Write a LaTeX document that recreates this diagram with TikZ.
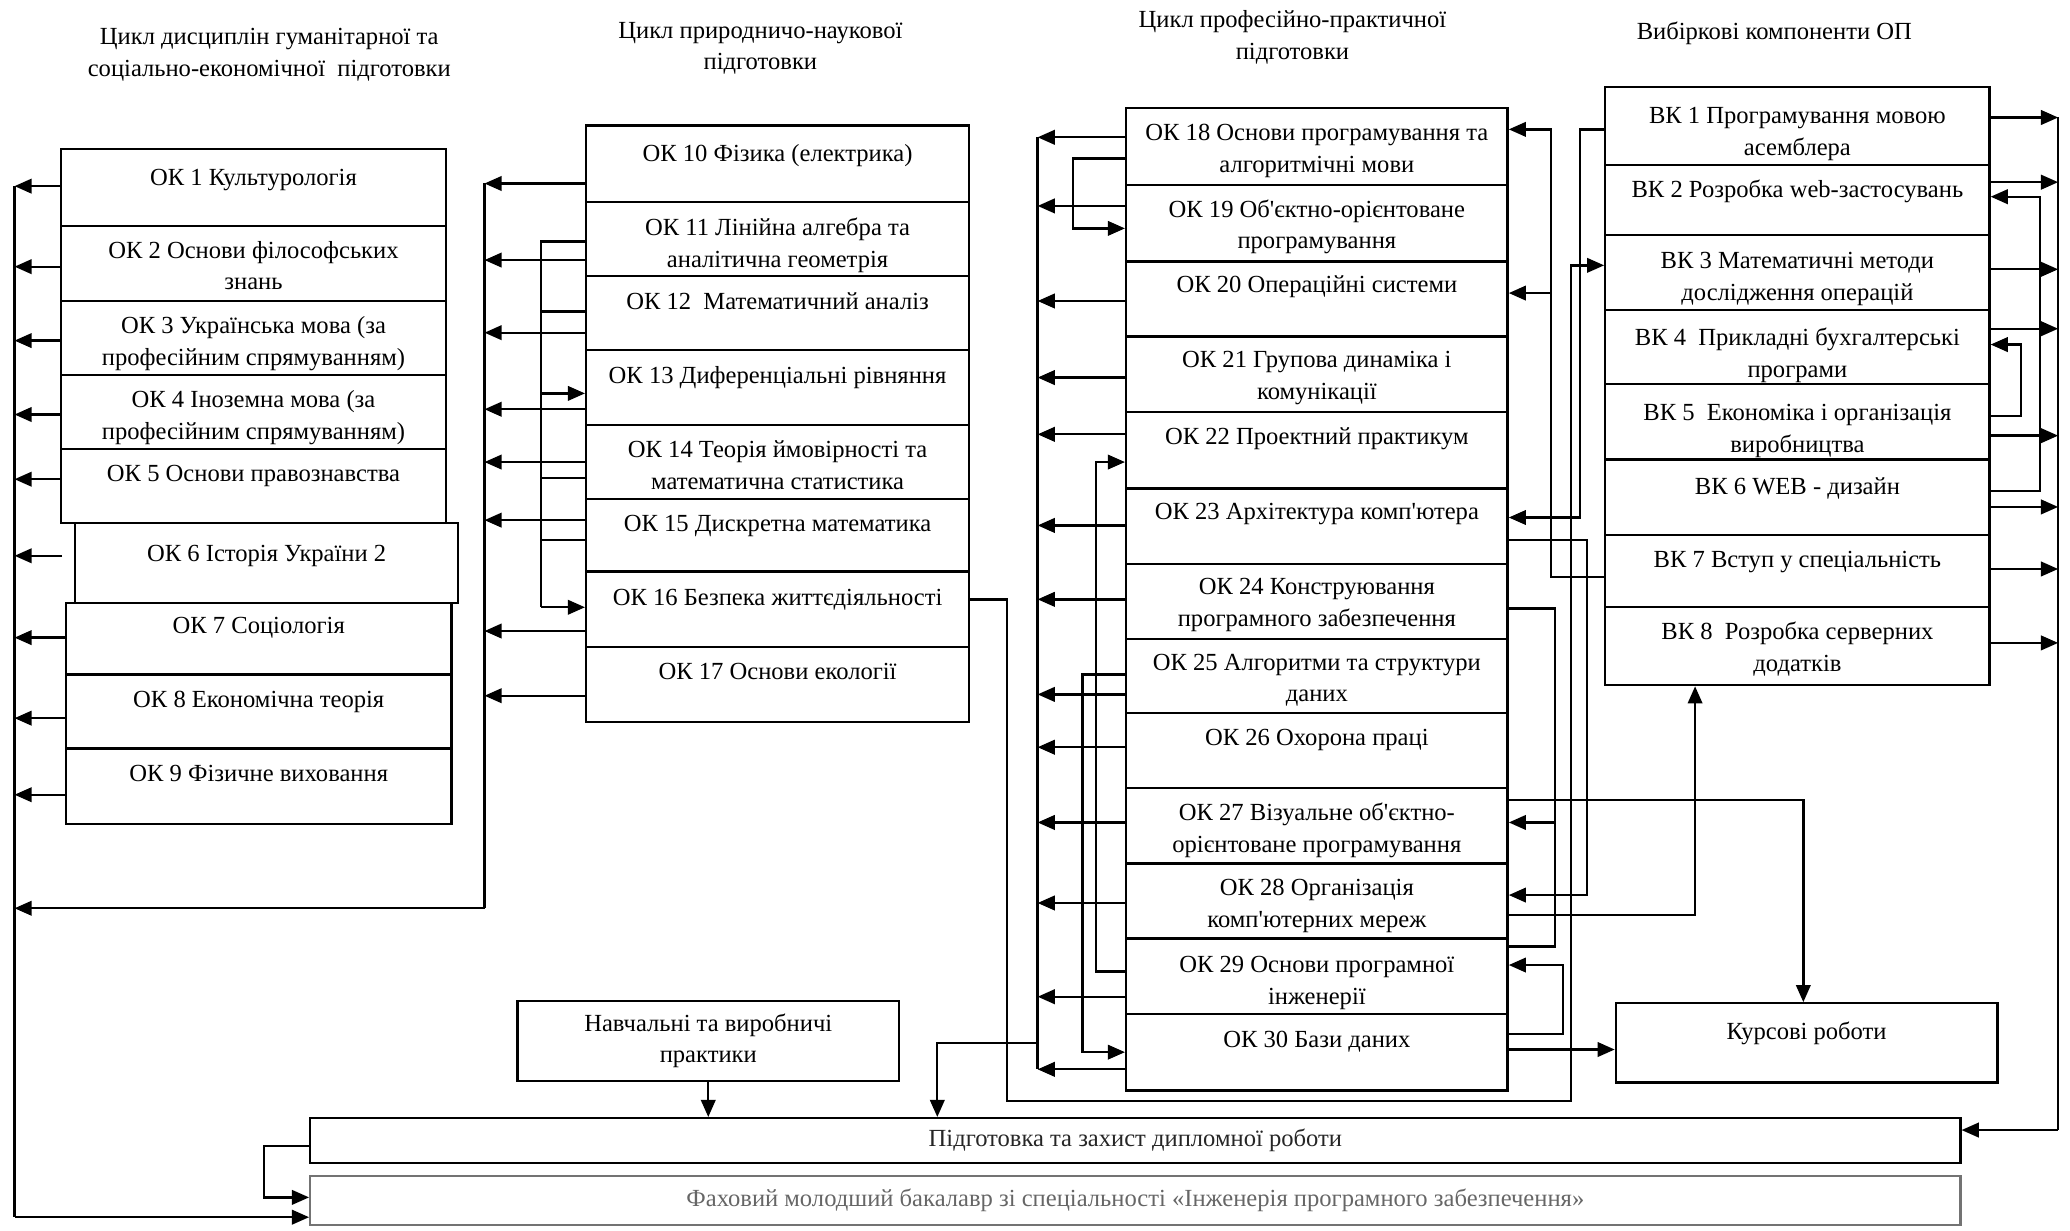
\documentclass[tikz,border=0pt]{standalone}
\usepackage{fontspec}
\setmainfont{Liberation Serif}
\usetikzlibrary{arrows.meta}
\newcommand\fs{\fontsize{10.6}{13.6}\selectfont}
\newcommand\ap{\textquotesingle}
\newcommand\mkcell[5]{\node[cell, minimum width={(#4-#2)*0.02cm}, minimum height={(#5-#3)*0.02cm}] (#1) at ({(#2+#4)/2},{(#3+#5)/2}) {};}
\newcommand\mklbl[3]{\node[lbl] (#1t) at ([yshift={-(#2+2.5)*0.02cm}]#1.north) {\strut #3};}
\newcommand\toL[3]{\draw[arr] (#1.west |- 0,#3) -- (#2 |- 0,#3);}
\newcommand\toR[3]{\draw[arr] (#1.east |- 0,#3) -- (#2 |- 0,#3);}
\begin{document}
\begin{tikzpicture}[x=0.02cm,y=-0.02cm,
  every node/.style={font=\fs},
  cell/.style={draw, line width=1pt, inner sep=0pt, align=center},
  lbl/.style={inner sep=0pt, anchor=north, align=center},
  ttl/.style={inner sep=0pt, anchor=north, align=center},
  conn/.style={line width=1pt},
  arr/.style={conn, -{Triangle[length=0.26cm,width=0.22cm]}}]
\useasboundingbox (0,0) rectangle (1568,932);

% titles
\node[ttl] (t1) at (204,17) {\strut Цикл дисциплін гуманітарної та\\соціально-економічної\ \ підготовки};
\node[ttl] (t2) at (576,12) {\strut Цикл природничо-наукової\\підготовки};
\node[ttl] (t3) at (979,4) {\strut Цикл професійно-практичної\\підготовки};
\node[ttl] (t4) at (1344,13) {\strut Вибіркові компоненти ОП};

% column 1
\mkcell{ok1}{46}{113}{338}{171}
\mkcell{ok2}{46}{171}{338}{228}
\mkcell{ok3}{46}{228}{338}{284}
\mkcell{ok4}{46}{284}{338}{340}
\mkcell{ok5}{46}{340}{338}{396}
\mkcell{ok6}{57}{396}{347}{457}
\mkcell{ok7}{50}{457}{342}{511}
\mkcell{ok8}{50}{511}{342}{567}
\mkcell{ok9}{50}{567}{342}{624}
\mklbl{ok1}{9}{ОК 1 Культурологія}
\mklbl{ok2}{6}{ОК 2 Основи філософських\\знань}
\mklbl{ok3}{6}{ОК 3 Українська мова (за\\професійним спрямуванням)}
\mklbl{ok4}{6}{ОК 4 Іноземна мова (за\\професійним спрямуванням)}
\mklbl{ok5}{6}{ОК 5 Основи правознавства}
\mklbl{ok6}{11}{ОК 6 Історія України 2}
\mklbl{ok7}{4}{ОК 7 Соціологія}
\mklbl{ok8}{6}{ОК 8 Економічна теорія}
\mklbl{ok9}{6}{ОК 9 Фізичне виховання}

% column 2
\mkcell{ok10}{444}{95}{734}{153}
\mkcell{ok11}{444}{153}{734}{209}
\mkcell{ok12}{444}{209}{734}{265}
\mkcell{ok13}{444}{265}{734}{322}
\mkcell{ok14}{444}{322}{734}{378}
\mkcell{ok15}{444}{378}{734}{433}
\mkcell{ok16}{444}{433}{734}{490}
\mkcell{ok17}{444}{490}{734}{547}
\mklbl{ok10}{9}{ОК 10 Фізика (електрика)}
\mklbl{ok11}{7}{ОК 11 Лінійна алгебра та\\аналітична геометрія}
\mklbl{ok12}{7}{ОК 12\ \ Математичний аналіз}
\mklbl{ok13}{7}{ОК 13 Диференціальні рівняння}
\mklbl{ok14}{6}{ОК 14 Теорія ймовірності та\\математична статистика}
\mklbl{ok15}{6}{ОК 15 Дискретна математика}
\mklbl{ok16}{7}{ОК 16 Безпека життєдіяльності}
\mklbl{ok17}{6}{ОК 17 Основи екології}

% column 3
\mkcell{ok18}{853}{82}{1142}{140}
\mkcell{ok19}{853}{140}{1142}{198}
\mkcell{ok20}{853}{198}{1142}{255}
\mkcell{ok21}{853}{255}{1142}{312}
\mkcell{ok22}{853}{312}{1142}{370}
\mkcell{ok23}{853}{370}{1142}{427}
\mkcell{ok24}{853}{427}{1142}{484}
\mkcell{ok25}{853}{484}{1142}{540}
\mkcell{ok26}{853}{540}{1142}{597}
\mkcell{ok27}{853}{597}{1142}{654}
\mkcell{ok28}{853}{654}{1142}{711}
\mkcell{ok29}{853}{711}{1142}{768}
\mkcell{ok30}{853}{768}{1142}{826}
\mklbl{ok18}{6}{ОК 18 Основи програмування та\\алгоритмічні мови}
\mklbl{ok19}{6}{ОК 19 Об\ap єктно-орієнтоване\\програмування}
\mklbl{ok20}{5}{ОК 20 Операційні системи}
\mklbl{ok21}{5}{ОК 21 Групова динаміка і\\комунікації}
\mklbl{ok22}{6}{ОК 22 Проектний практикум}
\mklbl{ok23}{5}{ОК 23 Архітектура комп\ap ютера}
\mklbl{ok24}{5}{ОК 24 Конструювання\\програмного забезпечення}
\mklbl{ok25}{5}{ОК 25 Алгоритми та структури\\даних}
\mklbl{ok26}{6}{ОК 26 Охорона праці}
\mklbl{ok27}{6}{ОК 27 Візуальне об\ap єктно-\\орієнтоване програмування}
\mklbl{ok28}{6}{ОК 28 Організація\\комп\ap ютерних мереж}
\mklbl{ok29}{7}{ОК 29 Основи програмної\\інженерії}
\mklbl{ok30}{7}{ОК 30 Бази даних}

% column 4
\mkcell{vk1}{1216}{66}{1507}{125}
\mkcell{vk2}{1216}{125}{1507}{178}
\mkcell{vk3}{1216}{178}{1507}{235}
\mkcell{vk4}{1216}{235}{1507}{291}
\mkcell{vk5}{1216}{291}{1507}{348}
\mkcell{vk6}{1216}{348}{1507}{405}
\mkcell{vk7}{1216}{405}{1507}{460}
\mkcell{vk8}{1216}{460}{1507}{519}
\mklbl{vk1}{9}{ВК 1 Програмування мовою\\асемблера}
\mklbl{vk2}{6}{ВК 2 Розробка web-застосувань}
\mklbl{vk3}{7}{ВК 3 Математичні методи\\дослідження операцій}
\mklbl{vk4}{8}{ВК 4\ \ Прикладні бухгалтерські\\програми}
\mklbl{vk5}{9}{ВК 5\ \ Економіка і організація\\виробництва}
\mklbl{vk6}{8}{ВК 6 WEB - дизайн}
\mklbl{vk7}{6}{ВК 7 Вступ у спеціальність}
\mklbl{vk8}{6}{ВК 8\ \ Розробка серверних\\додатків}

% bottom boxes
\node[cell, minimum width={289*0.02cm}, minimum height={61*0.02cm}] (nav) at (536.5,788.5) {Навчальні та виробничі\\практики};
\mkcell{kurs}{1224}{760}{1513}{820}
\mklbl{kurs}{9}{Курсові роботи}
\node[cell, minimum width={1250*0.02cm}, minimum height={34*0.02cm}, text=black!85] (pidg) at (860,864) {Підготовка та захист дипломної роботи};
\node[cell, draw=black!55, minimum width={1250*0.02cm}, minimum height={37*0.02cm}, text=black!60] (fah) at (860,909.5) {Фаховий молодший бакалавр зі спеціальності «Інженерія програмного забезпечення»};

% ---- connectors: column 1 bus
\coordinate (bus1) at (11,141);
\coordinate (bus1b) at (11,922);
\draw[conn] (bus1) -- (bus1b);
\toL{ok1}{bus1}{141}
\toL{ok2}{bus1}{202}
\toL{ok3}{bus1}{258}
\toL{ok4}{bus1}{314}
\toL{ok5}{bus1}{363}
\draw[arr] (ok6.west |- 0,421) ++(-9,0) -- (bus1 |- 0,421);
\toL{ok7}{bus1}{483}
\toL{ok8}{bus1}{544}
\toL{ok9}{bus1}{602}
\draw[arr] (bus1b) -- (fah.west |- bus1b);
\coordinate (p1) at (200,868);
\coordinate (p2) at (200,907);
\draw[arr] (pidg.west |- p1) -- (p1) -- (p2) -- (fah.west |- p2);

% column 2 bus
\coordinate (bus2) at (367,139);
\coordinate (bus2b) at (367,688);
\draw[conn] (bus2) -- (bus2b);
\draw[arr] (bus2b) -- (bus1 |- bus2b);
\toL{ok10}{bus2}{139}
\toL{ok11}{bus2}{197}
\toL{ok12}{bus2}{252}
\toL{ok13}{bus2}{310}
\toL{ok14}{bus2}{350}
\toL{ok15}{bus2}{394}
\toL{ok16}{bus2}{478}
\toL{ok17}{bus2}{527}
% column 2 inner links
\coordinate (c2in) at (410,183);
\coordinate (c2inb) at (410,460);
\draw[conn] (ok11.west |- c2in) -- (c2in) -- (c2inb);
\draw[conn] (ok12.west |- 0,236) -- (c2in |- 0,236);
\draw[conn] (ok14.west |- 0,362) -- (c2in |- 0,362);
\draw[conn] (ok15.west |- 0,409) -- (c2in |- 0,409);
\draw[arr] (c2in |- 0,298) -- (ok13.west |- 0,298);
\draw[arr] (c2inb) -- (ok16.west |- c2inb);
% OK16 -> VK3
\draw[arr] (ok16.east |- 0,454) -- (763,454) -- (763,834) -- (1190,834) -- (1190,201) -- (vk3.west |- 0,201);

% column 3 bus
\coordinate (bus3) at (786,104);
\coordinate (bus3b) at (786,810);
\draw[conn] (bus3) -- (bus3b);
\toL{ok18}{bus3}{104}
\toL{ok19}{bus3}{156}
\toL{ok20}{bus3}{228}
\toL{ok21}{bus3}{286}
\toL{ok22}{bus3}{329}
\toL{ok23}{bus3}{398}
\toL{ok24}{bus3}{454}
\toL{ok25}{bus3}{526}
\toL{ok26}{bus3}{566}
\toL{ok27}{bus3}{623}
\toL{ok28}{bus3}{684}
\toL{ok29}{bus3}{755}
\toL{ok30}{bus3}{810}
\coordinate (d1) at (710,790);
\draw[arr] (bus3 |- d1) -- (d1) -- (pidg.north -| d1);
% column 3 left loops
\draw[arr] (ok18.west |- 0,120) -- (813,120) -- (813,173) -- (ok19.west |- 0,173);
\draw[arr] (ok29.west |- 0,736) -- (830,736) -- (830,350) -- (ok22.west |- 0,350);
\draw[arr] (ok25.west |- 0,511) -- (820,511) -- (820,797) -- (ok30.west |- 0,797);
% column 3 right links
\coordinate (r1) at (1175,222);
\draw[arr] (vk7.west |- 0,437) -- (1175,437) -- (1175,98) -- (ok18.east |- 0,98);
\draw[arr] (r1) -- (ok20.east |- r1);
\draw[arr] (vk1.west |- 0,98) -- (1197,98) -- (1197,392) -- (ok23.east |- 0,392);
\draw[arr] (ok23.east |- 0,409) -- (1202,409) -- (1202,678) -- (ok28.east |- 0,678);
\coordinate (r2) at (1178,623);
\draw[conn] (ok24.east |- 0,461) -- (1178,461) -- (1178,717) -- (ok29.east |- 0,717);
\draw[arr] (r2) -- (ok27.east |- r2);
\draw[arr] (ok30.east |- 0,783) -- (1184,783) -- (1184,731) -- (ok29.east |- 0,731);
\coordinate (r3) at (1366,606);
\draw[arr] (ok27.east |- r3) -- (r3) -- (kurs.north -| r3);
\coordinate (r4) at (1284,693);
\draw[arr] (ok28.east |- r4) -- (r4) -- (vk8.south -| r4);
\draw[arr] (ok30.east |- 0,795) -- (kurs.west |- 0,795);

% column 4 bus
\coordinate (bus4) at (1559,89);
\coordinate (bus4b) at (1559,856);
\draw[conn] (bus4) -- (bus4b);
\draw[arr] (bus4b) -- (pidg.east |- bus4b);
\toR{vk1}{bus4}{89}
\toR{vk2}{bus4}{138}
\toR{vk3}{bus4}{204}
\toR{vk4}{bus4}{249}
\toR{vk5}{bus4}{330}
\toR{vk6}{bus4}{384}
\toR{vk7}{bus4}{431}
\toR{vk8}{bus4}{487}
\draw[arr] (vk6.east |- 0,372) -- (1545,372) -- (1545,149) -- (vk2.east |- 0,149);
\draw[arr] (vk5.east |- 0,315) -- (1531,315) -- (1531,261) -- (vk4.east |- 0,261);

% practice -> diploma
\draw[arr] (nav.south) -- (nav.south |- pidg.north);
\end{tikzpicture}
\end{document}
